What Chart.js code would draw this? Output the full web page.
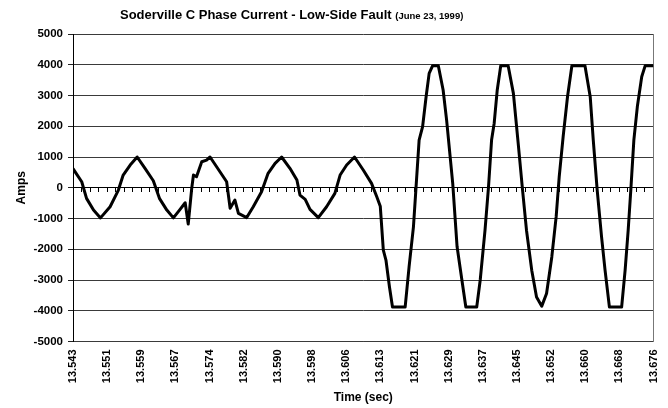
<!DOCTYPE html>
<html>
<head>
<meta charset="utf-8">
<script src="https://cdn.jsdelivr.net/npm/chart.js@4/dist/chart.umd.min.js"></script>
<style>
  body { margin: 0; background: #fff; }
  canvas { display: block; }
</style>
</head>
<body>
<canvas id="faultChart" width="668" height="408"></canvas>
<script>
// Soderville C phase current, low-side fault
const titleMain = 'Soderville C Phase Current - Low-Side Fault';
const titleDate = '(June 23, 1999)';

// time tick labels (sec), evenly spaced on the axis
const timeLabels = ['13.543', '13.551', '13.559', '13.567', '13.574', '13.582',
    '13.590', '13.598', '13.606', '13.613', '13.621', '13.629', '13.637',
    '13.645', '13.652', '13.660', '13.668', '13.676'];

// samples
const timeSec = [
    13.5430, 13.5450, 13.5461, 13.5477, 13.5493, 13.5515, 13.5534, 13.5545, 13.5561, 13.5577,
    13.5595, 13.5614, 13.5628, 13.5645, 13.5660, 13.5674, 13.5687, 13.5694, 13.5702, 13.5706,
    13.5713, 13.5725, 13.5736, 13.5744, 13.5759, 13.5782, 13.5790, 13.5801, 13.5809, 13.5828,
    13.5843, 13.5862, 13.5877, 13.5893, 13.5908, 13.5927, 13.5943, 13.5950, 13.5962, 13.5973,
    13.5992, 13.6011, 13.6030, 13.6042, 13.6057, 13.6075, 13.6095, 13.6114, 13.6126, 13.6134,
    13.6141, 13.6147, 13.6155, 13.6162, 13.6191, 13.6200, 13.6210, 13.6216, 13.6223, 13.6231,
    13.6239, 13.6246, 13.6254, 13.6267, 13.6278, 13.6286, 13.6300, 13.6310, 13.6321, 13.6330,
    13.6355, 13.6363, 13.6374, 13.6382, 13.6389, 13.6395, 13.6402, 13.6410, 13.6427, 13.6439,
    13.6450, 13.6460, 13.6469, 13.6481, 13.6492, 13.6504, 13.6515, 13.6527, 13.6537, 13.6544,
    13.6553, 13.6563, 13.6573, 13.6603, 13.6615, 13.6622, 13.6631, 13.6641, 13.6649, 13.6659,
    13.6687, 13.6695, 13.6702, 13.6708, 13.6715, 13.6723, 13.6733, 13.6741, 13.6760
];
const ampsC = [
    620, 195, -345, -726, -980, -618, -75, 413, 739, 1000,
    631, 228, -345, -726, -980, -726, -488, -1180, -20, 413,
    358, 846, 901, 1000, 683, 195, -670, -400, -833, -970,
    -618, -130, 469, 794, 1000, 631, 250, -238, -378, -703,
    -970, -618, -182, 413, 739, 1000, 576, 143, -293, -600,
    -2030, -2350, -3220, -3880, -3880, -2570, -1270, 30, 1550, 1990,
    2960, 3720, 3970, 3970, 3180, 2200, 140, -1920, -3000, -3880,
    -3880, -3000, -1380, 30, 1550, 2100, 3180, 3970, 3970, 3070,
    1440, -80, -1380, -2680, -3550, -3850, -3440, -2250, -940, 360,
    1660, 2960, 3970, 3970, 2960, 1550, -80, -1600, -2680, -3880,
    -3880, -2680, -1380, -80, 1550, 2640, 3610, 3970, 3970
];

const yMin = -5000, yMax = 5000, yStep = 1000;
const minorPerLabel = 4;

const tMin = parseFloat(timeLabels[0]);
const tMax = parseFloat(timeLabels[timeLabels.length - 1]);
const fontFamily = 'Arial, "Liberation Sans", sans-serif';
const gridColor = '#3a3a3a';

// title is two sizes, so draw it by hand
const titlePlugin = {
    id: 'twoPartTitle',
    afterDraw(chart) {
        const ctx = chart.ctx;
        ctx.save();
        ctx.fillStyle = '#000';
        ctx.textBaseline = 'alphabetic';
        ctx.textAlign = 'left';
        ctx.font = 'bold 13px ' + fontFamily;
        const x0 = 120;
        ctx.fillText(titleMain, x0, 19);
        const w = ctx.measureText(titleMain + ' ').width;
        ctx.font = 'bold 9.5px ' + fontFamily;
        ctx.fillText(titleDate, x0 + w, 19);
        ctx.restore();
    }
};

const ctx = document.getElementById('faultChart').getContext('2d');
new Chart(ctx, {
    type: 'line',
    data: {
        datasets: [{
            label: 'C Phase Current',
            data: timeSec.map((t, i) => ({ x: t, y: ampsC[i] })),
            borderColor: '#000',
            borderWidth: 3,
            borderJoinStyle: 'round',
            pointRadius: 0,
            tension: 0,
            xAxisID: 'x',
            yAxisID: 'y'
        }]
    },
    options: {
        responsive: false,
        animation: false,
        layout: { padding: { top: 34, right: 14.5, left: 0, bottom: 0 } },
        plugins: {
            legend: { display: false },
            tooltip: { enabled: false }
        },
        scales: {
            x: {
                type: 'linear',
                position: 'bottom',
                min: tMin,
                max: tMax,
                afterBuildTicks: scale => {
                    const n = timeLabels.length;
                    scale.ticks = timeLabels.map((_, i) => ({ value: tMin + i * (tMax - tMin) / (n - 1) }));
                },
                afterFit: scale => {
                    scale.height = 66.5;
                    scale.paddingLeft = 0;
                    scale.paddingRight = 0;
                },
                ticks: {
                    autoSkip: false,
                    minRotation: 90,
                    maxRotation: 90,
                    padding: 8,
                    color: '#000',
                    font: { family: fontFamily, size: 11, weight: 'bold' },
                    callback: (v, i) => timeLabels[i]
                },
                grid: { display: false, drawTicks: false },
                border: { color: gridColor },
                title: {
                    display: true,
                    text: 'Time (sec)',
                    color: '#000',
                    padding: { top: 0, bottom: 3 },
                    font: { family: fontFamily, size: 12, weight: 'bold' }
                }
            },
            // category axis crossing at zero, minor tick marks only
            xZero: {
                type: 'linear',
                position: { y: 0 },
                min: tMin,
                max: tMax,
                afterBuildTicks: scale => {
                    const n = (timeLabels.length - 1) * minorPerLabel;
                    const ticks = [];
                    for (let i = 0; i <= n; i++) ticks.push({ value: tMin + i * (tMax - tMin) / n });
                    scale.ticks = ticks;
                },
                afterFit: scale => {
                    scale.height = 0;
                    scale.paddingLeft = 0;
                    scale.paddingRight = 0;
                },
                ticks: { display: false },
                grid: { drawOnChartArea: false, drawTicks: true, tickLength: 4, tickColor: '#000' },
                border: { color: '#000', width: 1 }
            },
            y: {
                min: yMin,
                max: yMax,
                afterFit: scale => { scale.width = 73; },
                ticks: {
                    stepSize: yStep,
                    padding: 5,
                    color: '#000',
                    font: { family: fontFamily, size: 11.5, weight: 'bold' },
                    callback: v => String(v)
                },
                grid: {
                    color: c => (c.tick && c.tick.value === 0 ? '#000' : gridColor),
                    tickLength: 5,
                    tickColor: '#222'
                },
                border: { color: '#000' },
                title: {
                    display: true,
                    text: 'Amps',
                    color: '#000',
                    padding: { top: 14, bottom: 0 },
                    font: { family: fontFamily, size: 12, weight: 'bold' }
                }
            },
            // plot area frame on the right
            yRight: {
                position: 'right',
                min: yMin,
                max: yMax,
                afterFit: scale => { scale.width = 0; },
                ticks: { display: false },
                grid: { drawOnChartArea: false, drawTicks: false },
                border: { color: '#777' }
            }
        }
    },
    plugins: [titlePlugin]
});
</script>
</body>
</html>
